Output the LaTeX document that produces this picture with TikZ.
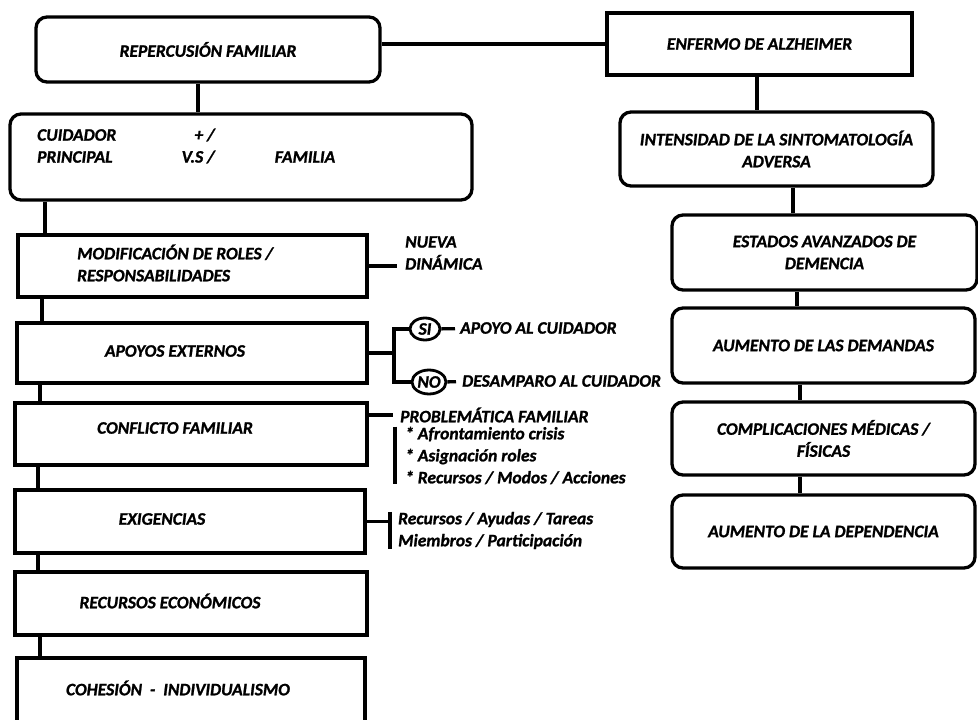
\documentclass[tikz,border=0pt]{standalone}
\usepackage{fontspec}
\setmainfont{Carlito}[BoldItalicFeatures={FakeBold=1.2}]
\usetikzlibrary{shapes.geometric}

\tikzset{
  txt/.style={font=\fontsize{17.5}{22}\selectfont\bfseries\itshape, inner sep=0pt},
  sqbox/.style={draw, line width=3.3pt, align=center,
    font=\fontsize{17.5}{22}\selectfont\bfseries\itshape},
  rbox/.style={sqbox, rounded corners=11pt},
  oval/.style={draw, ellipse, line width=2.8pt, inner sep=0pt,
    font=\fontsize{17.5}{22}\selectfont\bfseries\itshape},
  conn/.style={line width=3.3pt}
}

\begin{document}
\begin{tikzpicture}[x=1pt, y=-1pt]
  \useasboundingbox (0,0) rectangle (978,720);

  % top boxes
  \node[rbox, minimum width=344, minimum height=65] (rep) at (208,49.5) {REPERCUSIÓN FAMILIAR};
  \node[sqbox, minimum width=305, minimum height=62] (enf) at (759.5,44) {ENFERMO DE ALZHEIMER};
  \draw[conn] (enf.west -| rep.east) -- (enf.west);

  % left column
  \node[rbox, minimum width=462, minimum height=86] (cui) at (241,157) {};
  \node[txt, anchor=west, align=left] (cuit) at (37,146) {CUIDADOR\\PRINCIPAL};
  \node[txt, anchor=east, align=right] (vst) at (215,146) {+ /\\V.S /};
  \node[txt] (famt) at (305,157) {FAMILIA};
  \draw[conn] (rep.south -| 198,0) -- (cui.north -| 198,0);

  \node[sqbox, minimum width=349, minimum height=62] (mod) at (192.5,266) {};
  \node[txt, anchor=west, align=left] (modt) at (77,263) {MODIFICACIÓN DE ROLES /\\RESPONSABILIDADES};
  \node[sqbox, minimum width=350, minimum height=60] (apo) at (192,353) {};
  \node[txt] (apot) at (175,351) {APOYOS EXTERNOS};
  \node[sqbox, minimum width=352, minimum height=62] (con) at (191,434) {};
  \node[txt] (cont) at (175,428) {CONFLICTO FAMILIAR};
  \node[sqbox, minimum width=350, minimum height=63] (exi) at (190,521.5) {};
  \node[txt] (exit) at (162,519) {EXIGENCIAS};
  \node[sqbox, minimum width=352, minimum height=63] (rec) at (191,603.5) {};
  \node[txt] (rect) at (170,601) {RECURSOS ECONÓMICOS};
  \node[sqbox, minimum width=348, minimum height=110] (coh) at (191,713) {};
  \node[txt] (coht) at (178,688) {COHESIÓN \ -\ \ INDIVIDUALISMO};

  \foreach \a/\b/\x in {cui/mod/45, mod/apo/42, apo/con/40, con/exi/38, exi/rec/38, rec/coh/40}
    \draw[conn] (\a.south -| \x,0) -- (\b.north -| \x,0);

  % side notes
  \node[txt, anchor=west, align=left, inner xsep=8pt] (nueva) at (397,253) {NUEVA\\DINÁMICA};
  \draw[conn] (mod.east) -- (mod.east -| nueva.west);

  \node[oval, minimum width=30, minimum height=22] (si) at (425,329) {SI};
  \node[oval, minimum width=34, minimum height=24] (no) at (429,382) {NO};
  \node[txt, anchor=west, inner xsep=5pt] (apoyo) at (455,328) {APOYO AL CUIDADOR};
  \node[txt, anchor=west, inner xsep=6pt] (desamp) at (456,381) {DESAMPARO AL CUIDADOR};
  \coordinate (brsi) at (394,353);
  \draw[conn] (apo.east) -- (brsi);
  \draw[conn] (si.west) -| (brsi) |- (no.west);
  \draw[conn] (si) -- (apoyo);
  \draw[conn] (no) -- (desamp);

  \node[txt, anchor=west, inner xsep=7pt] (prob) at (393,415) {PROBLEMÁTICA FAMILIAR};
  \draw[conn] (prob.west -| con.east) -- (prob.west);
  \node[txt, anchor=west, align=left, inner xsep=10pt] (items) at (395,455.5)
    {* Afrontamiento crisis\\* Asignación roles\\* Recursos / Modos / Acciones};
  \draw[conn] (items.north west) -- (items.south west);

  \node[txt, anchor=west, align=left, inner xsep=8pt] (tareas) at (390,530.5)
    {Recursos / Ayudas / Tareas\\Miembros / Participación};
  \draw[conn] (exi.east) -- (exi.east -| tareas.west);
  \draw[conn] (tareas.north west) -- (tareas.south west);

  % right column
  \node[rbox, minimum width=313, minimum height=74] (int) at (776.5,149) {INTENSIDAD DE LA SINTOMATOLOGÍA\\ADVERSA};
  \node[rbox, minimum width=305, minimum height=75] (est) at (824.5,252.5) {ESTADOS AVANZADOS DE\\DEMENCIA};
  \node[rbox, minimum width=303, minimum height=75] (dem) at (823.5,345.5) {AUMENTO DE LAS DEMANDAS};
  \node[rbox, minimum width=303, minimum height=73] (cmp) at (823.5,438.5) {COMPLICACIONES MÉDICAS /\\FÍSICAS};
  \node[rbox, minimum width=303, minimum height=73] (dep) at (823.5,531.5) {AUMENTO DE LA DEPENDENCIA};

  \foreach \a/\b/\x in {enf/int/757, int/est/793, est/dem/797, dem/cmp/800, cmp/dep/800}
    \draw[conn] (\a.south -| \x,0) -- (\b.north -| \x,0);
\end{tikzpicture}
\end{document}
